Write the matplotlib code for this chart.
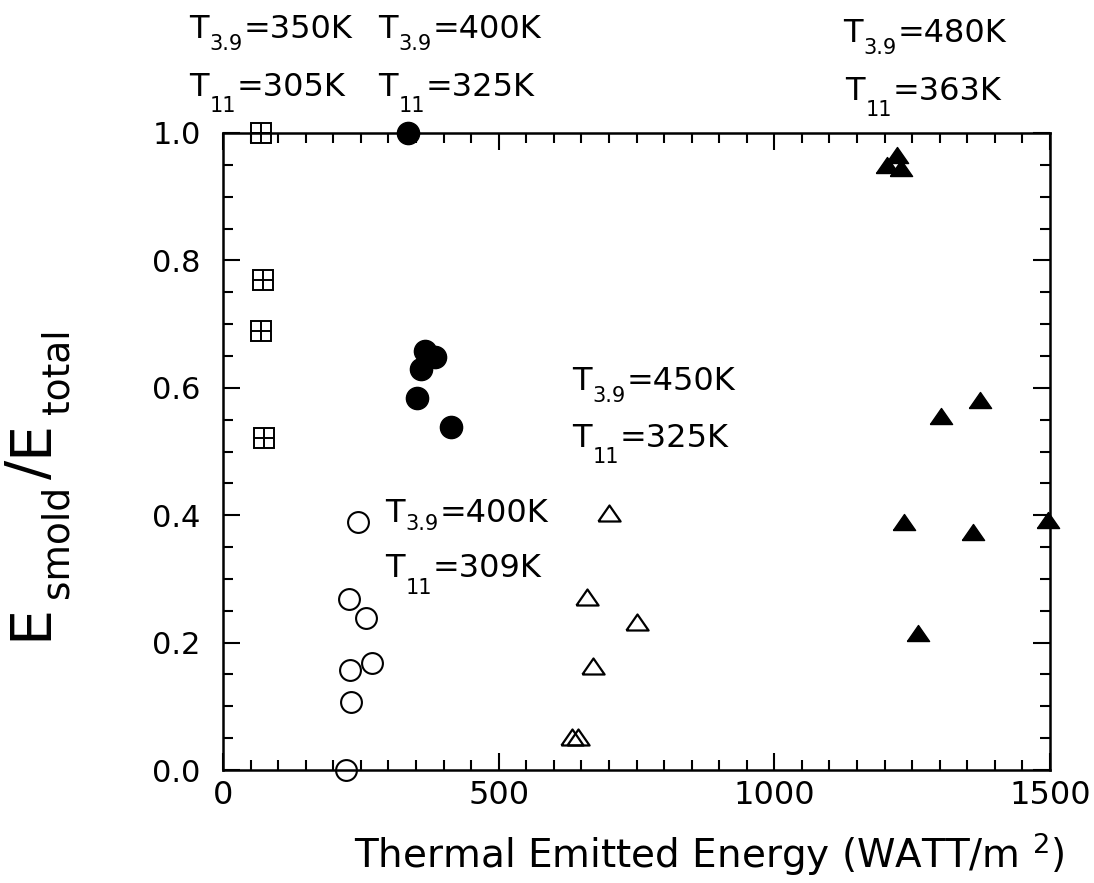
import matplotlib
matplotlib.use("Agg")
import matplotlib.pyplot as plt
from matplotlib.ticker import MultipleLocator
from matplotlib.transforms import IdentityTransform

plt.rcParams['font.family'] = ['DejaVu Sans']
plt.rcParams['mathtext.fontset'] = 'custom'
plt.rcParams['mathtext.rm'] = 'DejaVu Sans'

# ---- data ----
sq_x = [69, 73, 69, 74]
sq_y = [1.00, 0.769, 0.689, 0.521]

fc_x = [336, 366, 384, 359, 352, 414]
fc_y = [1.00, 0.658, 0.648, 0.630, 0.584, 0.538]

oc_x = [245, 229, 259, 270, 230, 232, 223]
oc_y = [0.389, 0.268, 0.238, 0.168, 0.157, 0.107, 0.0]

ot_x = [700, 660, 751, 671, 633, 644]
ot_y = [0.403, 0.272, 0.232, 0.163, 0.052, 0.052]

ft_x = [1205, 1222, 1230, 1373, 1302, 1235, 1360, 1497, 1261]
ft_y = [0.950, 0.965, 0.945, 0.581, 0.556, 0.389, 0.374, 0.392, 0.215]

xticks = [0, 500, 1000, 1500]
yticks = [0.0, 0.2, 0.4, 0.6, 0.8, 1.0]
ytick_labels = ['0.0', '0.2', '0.4', '0.6', '0.8', '1.0']

W, H = 1094, 883
fig = plt.figure(figsize=(W / 100, H / 100), dpi=100)
ax = fig.add_axes([223 / W, 1 - 770 / H, (1050 - 223) / W, (770 - 133) / H])

tri = [(-1, -0.72), (1, -0.72), (0, 0.72), (-1, -0.72)]

kw = dict(linestyle='none', clip_on=False, color='black')
ax.plot(sq_x, sq_y, marker='s', ms=15, mfc='none', mew=1.4, **kw)
ax.plot(sq_x, sq_y, marker='+', ms=15, mew=1.4, **kw)
ax.plot(fc_x, fc_y, marker='o', ms=16, mfc='black', **kw)
ax.plot(oc_x, oc_y, marker='o', ms=15, mfc='none', mew=1.5, **kw)
ax.plot(ot_x, ot_y, marker=tri, ms=16, mfc='none', mew=1.6, **kw)
ax.plot(ft_x, ft_y, marker=tri, ms=16, mfc='black', **kw)

ax.set_xlim(0, 1500)
ax.set_ylim(0, 1.0)
ax.set_xticks(xticks)
ax.set_xticklabels([str(v) for v in xticks])
ax.set_yticks(yticks)
ax.set_yticklabels(ytick_labels)
ax.xaxis.set_minor_locator(MultipleLocator(50))
ax.yaxis.set_minor_locator(MultipleLocator(0.05))
ax.tick_params(which='both', direction='in', top=True, right=True, width=1.5)
ax.tick_params(axis='x', labelsize=23, pad=7)
ax.tick_params(axis='y', labelsize=22, pad=16)
ax.tick_params(which='major', length=12)
ax.tick_params(which='minor', length=7)
for s in ax.spines.values():
    s.set_linewidth(1.8)

fig.text(709 / W, 1 - 868 / H, 'Thermal Emitted Energy (WATT/m $\\mathregular{^2}$)',
         fontsize=28, ha='center', va='baseline')

fig.canvas.draw()
r = fig.canvas.get_renderer()
ID = IdentityTransform()


def tlabel(x, y, sub, rest, drop, fs=23, sfs=15):
    t1 = fig.text(x, H - y, 'T', fontsize=fs, va='baseline', ha='left',
                  transform=ID)
    bb = t1.get_window_extent(r)
    t2 = fig.text(bb.x1 + 1, H - y - drop, sub, fontsize=sfs,
                  va='baseline', ha='left', transform=ID)
    bb2 = t2.get_window_extent(r)
    fig.text(bb2.x1 + 1, H - y, rest, fontsize=fs, va='baseline', ha='left',
             transform=ID)


tlabel(189, 38, '3.9', '=350K', 12)
tlabel(189, 96, '11', '=305K', 16)
tlabel(378, 38, '3.9', '=400K', 12)
tlabel(378, 96, '11', '=325K', 16)
tlabel(843, 42, '3.9', '=480K', 12)
tlabel(845, 100, '11', '=363K', 16)
tlabel(572, 390, '3.9', '=450K', 12)
tlabel(572, 447, '11', '=325K', 16)
tlabel(385, 522, '3.9', '=400K', 8)
tlabel(385, 577, '11', '=309K', 17)

# y-axis label built from pieces: E_smold / E_total (rotated)
pieces = [('E', 41, 0), ('smold', 27, 21), ('/', 41, 0), ('E', 41, 0), ('total', 27, 21)]
gaps = [5, 6, 4, 6]
base_x = 47
objs = []
lengths = []
for txt, fs, drop in pieces:
    t = fig.text(base_x + drop, 0, txt, fontsize=fs, rotation=90,
                 rotation_mode='anchor', ha='left', va='baseline', transform=ID)
    objs.append(t)
    lengths.append(t.get_window_extent(r).height)
total_len = sum(lengths) + sum(gaps)
center = 484
ycur = H - (center + total_len / 2)
for i, ((txt, fs, drop), t, L) in enumerate(zip(pieces, objs, lengths)):
    t.set_position((base_x + drop, ycur))
    ycur += L + (gaps[i] if i < len(gaps) else 0)

fig.savefig('out.png', dpi=100)
